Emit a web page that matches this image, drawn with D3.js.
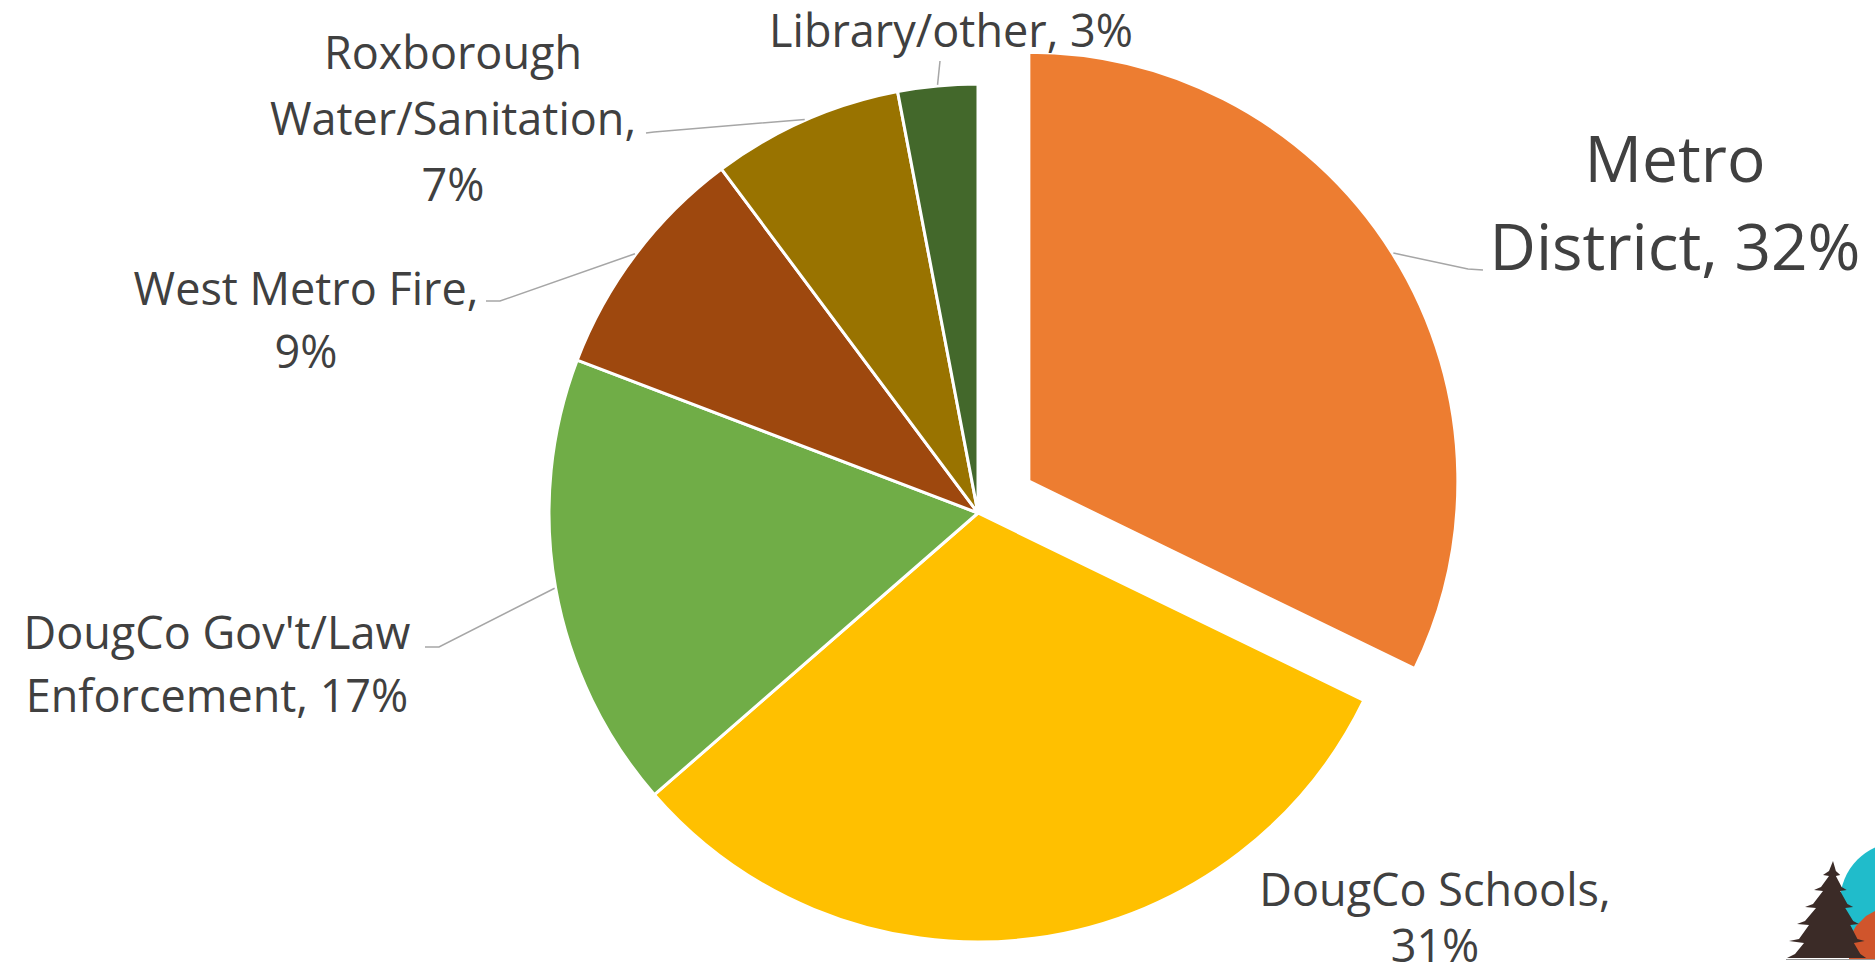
<!DOCTYPE html>
<html>
<head>
<meta charset="utf-8">
<script src="https://cdn.jsdelivr.net/npm/d3@7"></script>
<style>
  body { margin: 0; background: #fff; }
  svg { display: block; }
  .lbl { font-family: "Open Sans", sans-serif; fill: #404040; }
</style>
</head>
<body>
<svg id="chart" width="1875" height="970"></svg>
<script>
var categories = ["Metro District", "DougCo Schools", "DougCo Gov't/Law Enforcement", "West Metro Fire", "Roxborough Water/Sanitation", "Library/other"];
var shares = [32.2, 31.4, 17.2, 9.0, 7.2, 3.0];
var colors = ["#ED7D31", "#FFC000", "#70AD47", "#9E480E", "#997300", "#43682B"];
// how each label is broken into lines, {p} = percentage
var labelLines = [
    ["Metro", "District, {p}"],
    ["DougCo Schools,", "{p}"],
    ["DougCo Gov't/Law", "Enforcement, {p}"],
    ["West Metro Fire,", "{p}"],
    ["Roxborough", "Water/Sanitation,", "{p}"],
    ["Library/other, {p}"]
];

function drawPie() {
    var svg = d3.select("#chart"),
        cx = 978, cy = 513,
        radius = 429,
        explode = 60;

    // hand placed labels, as in the original sheet
    var layout = [
        {x: 1675, y: 182, size: 64, lh: 88, leader: [[1468, 269], [1483, 270]]},
        {x: 1435, y: 906, size: 45, lh: 56, leader: null},
        {x: 217, y: 649, size: 45, lh: 63, leader: [[439, 647], [425, 647]]},
        {x: 306, y: 305, size: 45, lh: 63, leader: [[500, 301], [486, 301]]},
        {x: 453, y: 69, size: 45, lh: 66, leader: [[654, 132], [646, 133]]},
        {x: 951, y: 47, size: 45, lh: 0, leader: [[940, 61]]}
    ];

    var data = categories.map(function(c, i) {
        return {name: c, value: shares[i], color: colors[i], lines: labelLines[i], pos: layout[i]};
    });

    var pie = d3.pie()
        .sort(null)
        .value(function(d) { return d.value; });

    var arc = d3.arc().innerRadius(0).outerRadius(radius);
    var edge = d3.arc().innerRadius(radius + 1).outerRadius(radius + 1);

    function offset(d, i) {
        if (i !== 0) return [0, 0];
        var a = (d.startAngle + d.endAngle) / 2;
        return [explode * Math.sin(a), -explode * Math.cos(a)];
    }

    var arcs = pie(data);

    var g = svg.append("g")
        .attr("transform", "translate(" + cx + "," + cy + ")");

    g.selectAll(".slice")
        .data(arcs)
        .enter().append("path")
        .attr("class", "slice")
        .attr("transform", function(d, i) { var o = offset(d, i); return "translate(" + o[0] + "," + o[1] + ")"; })
        .attr("fill", function(d) { return d.data.color; })
        .attr("stroke", "#fff")
        .attr("stroke-width", 3)
        .attr("stroke-linejoin", "round")
        .attr("d", arc);

    // leader lines
    arcs.forEach(function(d, i) {
        if (!d.data.pos.leader) return;
        var o = offset(d, i),
            c = edge.centroid(d),
            pts = [[cx + c[0] + o[0], cy + c[1] + o[1]]].concat(d.data.pos.leader);
        svg.append("path")
            .attr("fill", "none")
            .attr("stroke", "#A6A6A6")
            .attr("stroke-width", 1.5)
            .attr("d", d3.line()(pts));
    });

    // labels
    arcs.forEach(function(d) {
        var p = d.data.pos,
            pct = Math.round(d.data.value) + "%";
        var t = svg.append("text")
            .attr("class", "lbl")
            .attr("text-anchor", "middle")
            .style("font-size", p.size + "px");
        d.data.lines.forEach(function(line, k) {
            t.append("tspan")
                .attr("x", p.x)
                .attr("y", p.y + k * p.lh)
                .text(line.replace("{p}", pct));
        });
    });
}

function drawLogo() {
    var svg = d3.select("#chart");
    var logo = svg.append("g").attr("class", "logo");

    logo.append("circle")
        .attr("cx", 1900).attr("cy", 902).attr("r", 60)
        .attr("fill", "#20BCCB");

    logo.append("path")
        .attr("fill", "#D0552C")
        .attr("d", "M1849,959 L1851,935 L1856,926 L1866,916 L1875,911 L1875,959 Z");

    var left = [[1833,861],[1829,871],[1823,875],[1829,876],[1821,887],[1814,890],[1823,891],[1813,904],[1805,907],[1816,908],
                [1805,921],[1797,924],[1809,925],[1799,939],[1789,941],[1804,943],[1795,954],[1787,958]];
    var right = left.slice().reverse().map(function(p) { return [1833 + 0.72 * (1833 - p[0]), p[1]]; });
    logo.append("path")
        .attr("fill", "#3B2B27")
        .attr("d", d3.line()(left.concat(right)) + "Z");

    logo.append("line")
        .attr("x1", 1786).attr("x2", 1875).attr("y1", 959.5).attr("y2", 959.5)
        .attr("stroke", "#9a9a9a").attr("stroke-width", 1);
}

drawPie();
drawLogo();
</script>
</body>
</html>
